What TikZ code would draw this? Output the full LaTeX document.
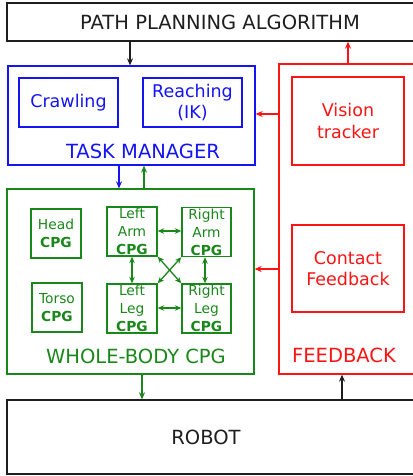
\documentclass[tikz,border=0pt]{standalone}
\usepackage{fontspec}
\setmainfont{DejaVu Sans}
\usetikzlibrary{arrows.meta,calc}
\definecolor{cblue}{RGB}{20,20,245}
\definecolor{cgreen}{RGB}{25,135,25}
\definecolor{cred}{RGB}{250,20,20}
\definecolor{cblack}{RGB}{30,30,30}
\begin{document}
\begin{tikzpicture}[x=1pt,y=-1pt,
  box/.style={draw,line width=1.3pt,inner sep=0pt,align=center},
  big/.style={font=\fontsize{19.5}{22}\selectfont},
  mid/.style={font=\fontsize{17.5}{21.5}\selectfont},
  cpg/.style={box,cgreen,minimum width=50pt,minimum height=49pt,font=\fontsize{13.8}{18}\selectfont},
  arr/.style={line width=1.3pt,-{Stealth[length=7pt,width=6pt]}},
  darr/.style={line width=1.3pt,{Stealth[length=6.5pt,width=5.5pt]}-{Stealth[length=6.5pt,width=5.5pt]}}]
\useasboundingbox (0,0) rectangle (412,476);
% top
\node[box,cblack,big,minimum width=426pt,minimum height=38pt] (path) at (220,22) {PATH PLANNING ALGORITHM};
% task manager
\node[box,cblue,minimum width=247pt,minimum height=99pt] (tm) at (131.5,115.5) {};
\node[box,cblue,mid,minimum width=99pt,minimum height=49pt] (crawl) at (68.5,102.5) {Crawling};
\node[box,cblue,mid,minimum width=99pt,minimum height=49pt] (reach) at (192.5,102.5) {Reaching\\(IK)};
\node[cblue,big,inner sep=0pt] (tmlabel) at (143,151) {TASK MANAGER};
% whole body
\node[box,cgreen,minimum width=247pt,minimum height=185pt] (wb) at (130.5,281.5) {};
\node[cpg] (head) at (56,233.5) {Head\\\textbf{CPG}};
\node[cpg] (torso) at (57,307.5) {Torso\\\textbf{CPG}};
\node[cpg] (la) at (132,231.5) {Left\\Arm\\\textbf{CPG}};
\node[cpg,minimum width=49pt] (ra) at (206.5,232) {Right\\Arm\\\textbf{CPG}};
\node[cpg] (ll) at (132,308.5) {Left\\Leg\\\textbf{CPG}};
\node[cpg,minimum width=49pt] (rl) at (206.5,308.5) {Right\\Leg\\\textbf{CPG}};
\node[cgreen,big,inner sep=0pt] (wblabel) at (136,356) {WHOLE-BODY CPG};
% feedback
\node[box,cred,minimum width=141pt,minimum height=310pt] (fb) at (349.5,219) {};
\node[box,cred,mid,minimum width=112pt,minimum height=88pt] (vision) at (348,121) {Vision\\tracker};
\node[box,cred,mid,minimum width=112pt,minimum height=87pt] (contact) at (348,268.5) {Contact\\Feedback};
\node[cred,big,inner sep=0pt] (fblabel) at (344,355) {FEEDBACK};
% robot
\node[box,cblack,big,minimum width=413pt,minimum height=74pt] (robot) at (213.5,437) {};
\node[cblack,big,inner sep=0pt] (robotlabel) at (206,437) {ROBOT};
% connectors
\draw[arr,cblack] (130,0 |- path.south) -- (130,0 |- tm.north);
\draw[arr,cblue] (119,0 |- tm.south) -- (119,0 |- wb.north);
\draw[arr,cgreen] (144,0 |- wb.north) -- (144,0 |- tm.south);
\draw[arr,cred] (fb.west |- 0,114) -- (tm.east |- 0,114);
\draw[arr,cred] (fb.west |- 0,269) -- (wb.east |- 0,269);
\draw[arr,cred] (348,0 |- fb.north) -- (348,0 |- path.south);
\draw[arr,cgreen] (142,0 |- wb.south) -- (142,0 |- robot.north);
\draw[arr,cblack] (342,0 |- robot.north) -- (342,0 |- fb.south);
\draw[darr,cgreen] (la.east |- 0,231) -- (ra.west |- 0,231);
\draw[darr,cgreen] (ll.east |- 0,308) -- (rl.west |- 0,308);
\draw[darr,cgreen] (132,0 |- la.south) -- (132,0 |- ll.north);
\draw[darr,cgreen] (205,0 |- ra.south) -- (205,0 |- rl.north);
\draw[darr,cgreen] (la.south east) -- (rl.north west);
\draw[darr,cgreen] (ra.south west) -- (ll.north east);
\end{tikzpicture}
\end{document}
